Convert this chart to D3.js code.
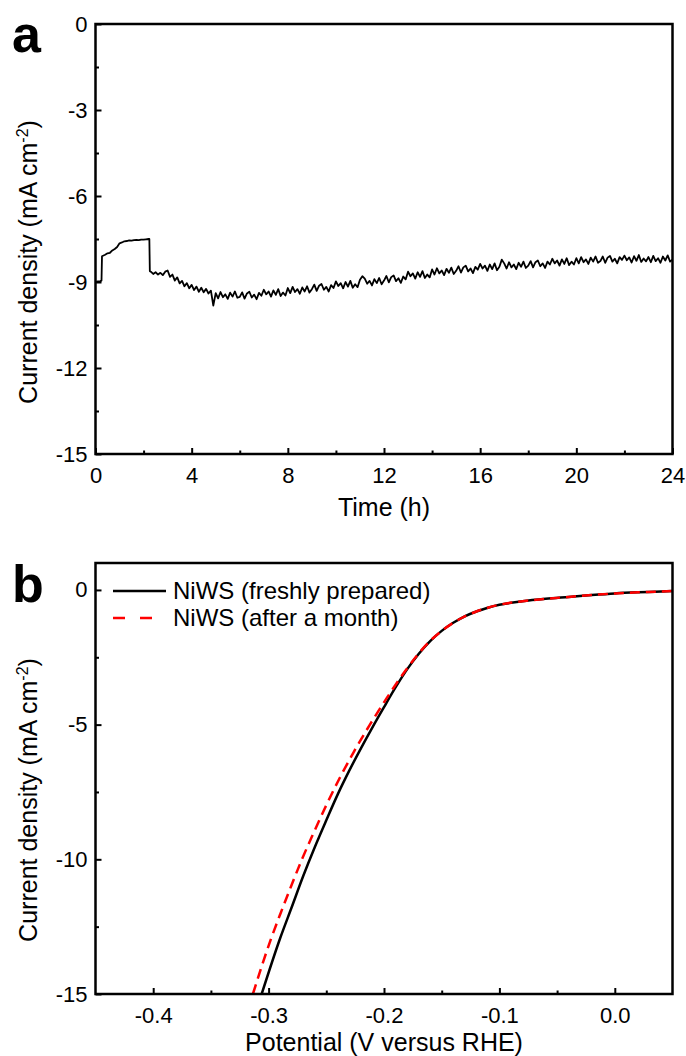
<!DOCTYPE html>
<html lang="en">
<head>
<meta charset="UTF-8">
<title>NiWS stability</title>
<script src="https://d3js.org/d3.v7.min.js"></script>
<style>
  body { margin: 0; background: #fff; }
  svg { display: block; font-family: "Liberation Sans", Arial, sans-serif; }
  .tick text { font-size: 22px; fill: #000; }
  .tick line { stroke: #000; stroke-width: 2; }
</style>
</head>
<body>
<svg width="686" height="1056"></svg>
<script>
// ---- panel a: chronoamperometry ----
const timeH = [
  0, 0.1, 0.2, 0.25, 0.27, 0.4, 0.5, 0.6, 0.7, 0.8, 0.9, 1.0, 1.1, 1.2, 1.3, 1.4, 1.5, 1.6, 1.7, 1.8, 1.9, 2.0, 2.1, 2.2, 2.24, 2.26,
  2.3, 2.4, 2.5, 2.6, 2.7, 2.8, 2.9,
  3.0, 3.1, 3.2, 3.3, 3.4, 3.5, 3.6, 3.7, 3.8, 3.9,
  4.0, 4.1, 4.2, 4.3, 4.4, 4.5, 4.6, 4.7, 4.8, 4.9,
  5.0, 5.1, 5.2, 5.3, 5.4, 5.5, 5.6, 5.7, 5.8, 5.9,
  6.0, 6.1, 6.2, 6.3, 6.4, 6.5, 6.6, 6.7, 6.8, 6.9,
  7.0, 7.1, 7.2, 7.3, 7.4, 7.5, 7.6, 7.7, 7.8, 7.9,
  8.0, 8.1, 8.2, 8.3, 8.4, 8.5, 8.6, 8.7, 8.8, 8.9,
  9.0, 9.1, 9.2, 9.3, 9.4, 9.5, 9.6, 9.7, 9.8, 9.9,
  10.0, 10.1, 10.2, 10.3, 10.4, 10.5, 10.6, 10.7, 10.8, 10.9,
  11.0, 11.1, 11.2, 11.3, 11.4, 11.5, 11.6, 11.7, 11.8, 11.9,
  12.0, 12.1, 12.2, 12.3, 12.4, 12.5, 12.6, 12.7, 12.8, 12.9,
  13.0, 13.1, 13.2, 13.3, 13.4, 13.5, 13.6, 13.7, 13.8, 13.9,
  14.0, 14.1, 14.2, 14.3, 14.4, 14.5, 14.6, 14.7, 14.8, 14.9,
  15.0, 15.1, 15.2, 15.3, 15.4, 15.5, 15.6, 15.7, 15.8, 15.9,
  16.0, 16.1, 16.2, 16.3, 16.4, 16.5, 16.6, 16.7, 16.8, 16.9,
  17.0, 17.1, 17.2, 17.3, 17.4, 17.5, 17.6, 17.7, 17.8, 17.9,
  18.0, 18.1, 18.2, 18.3, 18.4, 18.5, 18.6, 18.7, 18.8, 18.9,
  19.0, 19.1, 19.2, 19.3, 19.4, 19.5, 19.6, 19.7, 19.8, 19.9,
  20.0, 20.1, 20.2, 20.3, 20.4, 20.5, 20.6, 20.7, 20.8, 20.9,
  21.0, 21.1, 21.2, 21.3, 21.4, 21.5, 21.6, 21.7, 21.8, 21.9,
  22.0, 22.1, 22.2, 22.3, 22.4, 22.5, 22.6, 22.7, 22.8, 22.9,
  23.0, 23.1, 23.2, 23.3, 23.4, 23.5, 23.6, 23.7, 23.8, 23.9,
  24.0
];
const currentA = [
  -9.00, -8.98, -8.97, -8.95, -8.10, -8.05, -8.00, -7.98, -7.90, -7.85, -7.78, -7.65, -7.62, -7.58, -7.57, -7.55, -7.56, -7.54, -7.53, -7.54, -7.52, -7.52, -7.51, -7.50, -7.50, -8.62,
  -8.64, -8.72, -8.66, -8.74, -8.68, -8.76, -8.64,
  -8.60, -8.82, -8.74, -8.95, -8.84, -9.05, -8.96, -9.15, -9.04, -9.22,
  -9.10, -9.28, -9.16, -9.34, -9.20, -9.36, -9.24, -9.40, -9.30, -9.82,
  -9.39, -9.57, -9.35, -9.53, -9.43, -9.59, -9.37, -9.51, -9.33, -9.55,
  -9.52, -9.36, -9.58, -9.40, -9.34, -9.54, -9.44, -9.60, -9.38, -9.48,
  -9.27, -9.43, -9.33, -9.51, -9.29, -9.45, -9.25, -9.49, -9.37, -9.47,
  -9.21, -9.39, -9.17, -9.35, -9.25, -9.41, -9.19, -9.33, -9.15, -9.37,
  -9.25, -9.09, -9.31, -9.13, -9.07, -9.27, -9.17, -9.33, -9.11, -9.21,
  -8.98, -9.14, -9.04, -9.22, -9.00, -9.16, -8.96, -9.20, -9.08, -9.18,
  -8.92, -8.80, -8.88, -9.06, -8.96, -9.12, -8.90, -9.04, -8.86, -9.08,
  -8.95, -8.79, -9.01, -8.83, -8.77, -8.97, -8.87, -9.03, -8.81, -8.91,
  -8.64, -8.80, -8.70, -8.88, -8.66, -8.82, -8.62, -8.86, -8.74, -8.84,
  -8.56, -8.74, -8.52, -8.70, -8.60, -8.76, -8.54, -8.68, -8.50, -8.72,
  -8.61, -8.45, -8.67, -8.49, -8.43, -8.63, -8.53, -8.69, -8.47, -8.57,
  -8.37, -8.53, -8.43, -8.61, -8.39, -8.55, -8.35, -8.59, -8.47, -8.22,
  -8.35, -8.53, -8.31, -8.49, -8.39, -8.55, -8.33, -8.47, -8.29, -8.51,
  -8.43, -8.27, -8.49, -8.31, -8.25, -8.45, -8.35, -8.51, -8.29, -8.39,
  -8.19, -8.35, -8.25, -8.43, -8.21, -8.37, -8.17, -8.41, -8.29, -8.39,
  -8.17, -8.35, -8.13, -8.31, -8.21, -8.37, -8.15, -8.29, -8.11, -8.33,
  -8.27, -8.11, -8.33, -8.15, -8.09, -8.29, -8.19, -8.35, -8.13, -8.23,
  -8.08, -8.24, -8.14, -8.32, -8.10, -8.26, -8.06, -8.30, -8.18, -8.28,
  -8.13, -8.31, -8.09, -8.27, -8.17, -8.33, -8.11, -8.25, -8.07, -8.29,
  -8.22
];
const aXTicks = [0, 4, 8, 12, 16, 20, 24];
const aXMinor = [2, 6, 10, 14, 18, 22];
const aYTicks = [0, -3, -6, -9, -12, -15];
const aYMinor = [-1.5, -4.5, -7.5, -10.5, -13.5];

// ---- panel b: polarization curves ----
const potFresh = [-0.306, -0.29, -0.28, -0.27, -0.26, -0.25, -0.24, -0.23, -0.22, -0.21, -0.20, -0.19, -0.18, -0.17, -0.16, -0.15, -0.14, -0.13, -0.12, -0.11, -0.10, -0.08, -0.06, -0.04, -0.02, 0.00, 0.02, 0.04, 0.05];
const curFresh = [-15, -12.93, -11.78, -10.62, -9.55, -8.55, -7.58, -6.70, -5.88, -5.10, -4.35, -3.62, -2.95, -2.38, -1.90, -1.52, -1.22, -0.98, -0.80, -0.66, -0.55, -0.42, -0.33, -0.26, -0.19, -0.13, -0.09, -0.06, -0.04];
const potAged = [-0.3136, -0.2983, -0.2896, -0.2805, -0.2711, -0.2608, -0.2501, -0.2386, -0.2260, -0.2122, -0.1974, -0.1815, -0.17, -0.16, -0.15, -0.14, -0.13, -0.12, -0.11, -0.10, -0.08, -0.06, -0.04, -0.02, 0.00, 0.02, 0.04, 0.05];
const curAged = [-15, -13, -12, -11, -10, -9, -8, -7, -6, -5, -4, -3, -2.36, -1.89, -1.52, -1.22, -0.98, -0.80, -0.66, -0.55, -0.42, -0.33, -0.26, -0.19, -0.13, -0.09, -0.06, -0.04];
const bXTicks = [-0.4, -0.3, -0.2, -0.1, 0.0];
const bXMinor = [-0.35, -0.25, -0.15, -0.05];
const bYTicks = [0, -5, -10, -15];
const bYMinor = [-2.5, -7.5, -12.5];
const legendNames = ["NiWS (freshly prepared)", "NiWS (after a month)"];

const svg = d3.select("svg");
const left = 95.5, right = 672.5;

function frame(g, x, y, xt, xm, yt, ym, xfmt, yfmt) {
  const [y0, y1] = y.range();
  g.append("g").attr("transform", `translate(0,${y0})`)
    .call(d3.axisBottom(x).tickValues(xt).tickSize(-6).tickPadding(13).tickFormat(xfmt))
    .call(a => a.select(".domain").remove());
  g.append("g").attr("transform", `translate(0,${y0})`)
    .call(d3.axisBottom(x).tickValues(xm).tickSize(-3.5).tickFormat(""))
    .call(a => a.select(".domain").remove());
  g.append("g").attr("transform", `translate(${left},0)`)
    .call(d3.axisLeft(y).tickValues(yt).tickSize(-6).tickPadding(8).tickFormat(yfmt))
    .call(a => a.select(".domain").remove());
  g.append("g").attr("transform", `translate(${left},0)`)
    .call(d3.axisLeft(y).tickValues(ym).tickSize(-3.5).tickFormat(""))
    .call(a => a.select(".domain").remove());
  g.selectAll(".tick text").attr("fill", "#000");
  g.append("rect")
    .attr("x", left).attr("y", y1)
    .attr("width", right - left).attr("height", y0 - y1)
    .attr("fill", "none").attr("stroke", "#000").attr("stroke-width", 2.5);
}

function yTitle(cy) {
  const t = svg.append("text")
    .attr("transform", `translate(37,${cy}) rotate(-90)`)
    .attr("text-anchor", "middle")
    .attr("font-size", 25);
  t.append("tspan").text("Current density (mA cm");
  t.append("tspan").attr("font-size", 16).attr("dy", -9).text("-2");
  t.append("tspan").attr("dy", 9).text(")");
}

// panel a
const xa = d3.scaleLinear().domain([0, 24]).range([left, right]);
const ya = d3.scaleLinear().domain([-15, 0]).range([454, 24]);
const ga = svg.append("g");
ga.append("path")
  .datum(timeH.map((t, i) => [t, currentA[i]]))
  .attr("fill", "none").attr("stroke", "#000").attr("stroke-width", 1.8)
  .attr("stroke-linejoin", "round")
  .attr("d", d3.line().x(d => xa(d[0])).y(d => ya(d[1])));
frame(ga, xa, ya, aXTicks, aXMinor, aYTicks, aYMinor, d => String(d), d => String(d));
svg.append("text").attr("x", (left + right) / 2).attr("y", 516)
  .attr("text-anchor", "middle").attr("font-size", 25).text("Time (h)");
yTitle(262);
svg.append("text").attr("x", 12).attr("y", 52)
  .attr("font-size", 52).attr("font-weight", "bold").text("a");

// panel b
const xb = d3.scaleLinear().domain([-0.45, 0.05]).range([left, right]);
const yb = d3.scaleLinear().domain([-15, 1]).range([994, 563]);
const gb = svg.append("g");
const lineB = d3.line().curve(d3.curveMonotoneX).x(d => xb(d[0])).y(d => yb(d[1]));
gb.append("path")
  .datum(potFresh.map((v, i) => [v, curFresh[i]]))
  .attr("fill", "none").attr("stroke", "#000").attr("stroke-width", 2.5)
  .attr("d", lineB);
gb.append("path")
  .datum(potAged.map((v, i) => [v, curAged[i]]))
  .attr("fill", "none").attr("stroke", "#ff0000").attr("stroke-width", 2.5)
  .attr("stroke-dasharray", "10,6")
  .attr("d", lineB);
frame(gb, xb, yb, bXTicks, bXMinor, bYTicks, bYMinor, d => d.toFixed(1), d => String(d));

const leg = svg.append("g");
legendNames.forEach((name, i) => {
  const ly = 591 + i * 27;
  leg.append("line").attr("x1", 113).attr("x2", 166).attr("y1", ly).attr("y2", ly)
    .attr("stroke", i ? "#ff0000" : "#000").attr("stroke-width", 2.5)
    .attr("stroke-dasharray", i ? "12,15" : null);
  leg.append("text").attr("x", 173).attr("y", ly + 8).attr("font-size", 24).text(name);
});

svg.append("text").attr("x", (left + right) / 2).attr("y", 1051)
  .attr("text-anchor", "middle").attr("font-size", 25).text("Potential (V versus RHE)");
yTitle(800);
svg.append("text").attr("x", 12).attr("y", 602)
  .attr("font-size", 52).attr("font-weight", "bold").text("b");
</script>
</body>
</html>
